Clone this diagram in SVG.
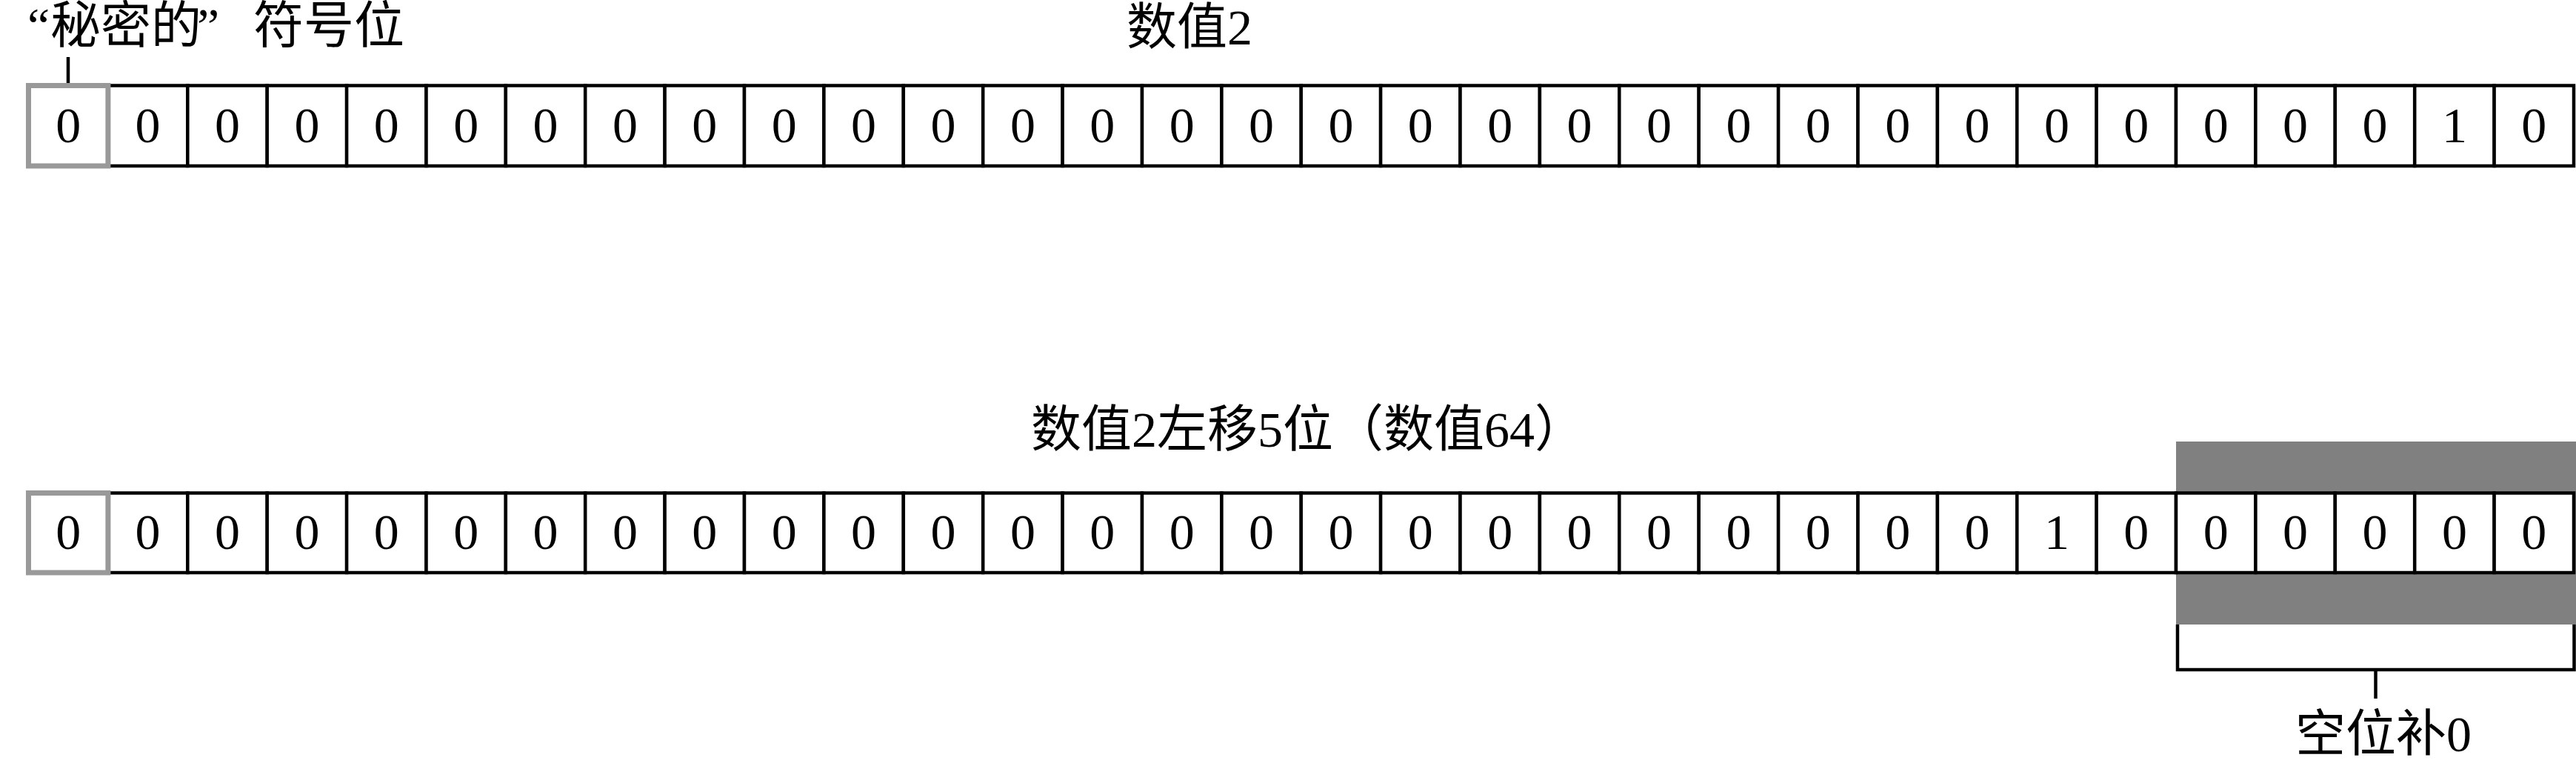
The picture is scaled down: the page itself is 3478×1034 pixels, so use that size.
<svg xmlns="http://www.w3.org/2000/svg" width="3478" height="1034" viewBox="0 0 3478 1034">
<style>
.cell{fill:#fff;stroke:#000;stroke-width:4.5}
.sign{fill:#fff;stroke:#999;stroke-width:7}
.d{font-family:"Liberation Serif",serif;font-size:68px;text-anchor:middle;fill:#000}
.lbl{font-family:"Liberation Serif","Noto Sans CJK SC",serif;font-size:68px;fill:#000}
.conn{fill:none;stroke:#000;stroke-width:4.5}
.band{fill:#808080}
</style>
<rect width="3478" height="1034" fill="#fff"/>
<g id="label-sign"><text class="lbl" y="58"><tspan x="37">“</tspan><tspan x="68">秘密的</tspan><tspan x="266">”</tspan><tspan x="342">符号位</tspan></text></g>
<g id="label-row1"><text class="lbl" x="1521" y="60">数值2</text></g>
<g id="label-row2"><text class="lbl" x="1392" y="603">数值2左移5位（数值64）</text></g>
<g id="label-fill"><text class="lbl" x="3099" y="1014">空位补0</text></g>
<g id="band"><rect class="band" x="2938" y="596" width="540" height="247"/></g>
<g id="row1">
<g id="r1c1"><rect class="cell" x="145.9" y="115.5" width="107.4" height="108.5"/><text class="d" x="199.6" y="192">0</text></g>
<g id="r1c2"><rect class="cell" x="253.3" y="115.5" width="107.4" height="108.5"/><text class="d" x="307.0" y="192">0</text></g>
<g id="r1c3"><rect class="cell" x="360.7" y="115.5" width="107.4" height="108.5"/><text class="d" x="414.4" y="192">0</text></g>
<g id="r1c4"><rect class="cell" x="468.1" y="115.5" width="107.4" height="108.5"/><text class="d" x="521.8" y="192">0</text></g>
<g id="r1c5"><rect class="cell" x="575.5" y="115.5" width="107.4" height="108.5"/><text class="d" x="629.2" y="192">0</text></g>
<g id="r1c6"><rect class="cell" x="682.8" y="115.5" width="107.4" height="108.5"/><text class="d" x="736.5" y="192">0</text></g>
<g id="r1c7"><rect class="cell" x="790.2" y="115.5" width="107.4" height="108.5"/><text class="d" x="843.9" y="192">0</text></g>
<g id="r1c8"><rect class="cell" x="897.6" y="115.5" width="107.4" height="108.5"/><text class="d" x="951.3" y="192">0</text></g>
<g id="r1c9"><rect class="cell" x="1005.0" y="115.5" width="107.4" height="108.5"/><text class="d" x="1058.7" y="192">0</text></g>
<g id="r1c10"><rect class="cell" x="1112.4" y="115.5" width="107.4" height="108.5"/><text class="d" x="1166.1" y="192">0</text></g>
<g id="r1c11"><rect class="cell" x="1219.8" y="115.5" width="107.4" height="108.5"/><text class="d" x="1273.5" y="192">0</text></g>
<g id="r1c12"><rect class="cell" x="1327.2" y="115.5" width="107.4" height="108.5"/><text class="d" x="1380.9" y="192">0</text></g>
<g id="r1c13"><rect class="cell" x="1434.6" y="115.5" width="107.4" height="108.5"/><text class="d" x="1488.3" y="192">0</text></g>
<g id="r1c14"><rect class="cell" x="1542.0" y="115.5" width="107.4" height="108.5"/><text class="d" x="1595.7" y="192">0</text></g>
<g id="r1c15"><rect class="cell" x="1649.4" y="115.5" width="107.4" height="108.5"/><text class="d" x="1703.1" y="192">0</text></g>
<g id="r1c16"><rect class="cell" x="1756.7" y="115.5" width="107.4" height="108.5"/><text class="d" x="1810.4" y="192">0</text></g>
<g id="r1c17"><rect class="cell" x="1864.1" y="115.5" width="107.4" height="108.5"/><text class="d" x="1917.8" y="192">0</text></g>
<g id="r1c18"><rect class="cell" x="1971.5" y="115.5" width="107.4" height="108.5"/><text class="d" x="2025.2" y="192">0</text></g>
<g id="r1c19"><rect class="cell" x="2078.9" y="115.5" width="107.4" height="108.5"/><text class="d" x="2132.6" y="192">0</text></g>
<g id="r1c20"><rect class="cell" x="2186.3" y="115.5" width="107.4" height="108.5"/><text class="d" x="2240.0" y="192">0</text></g>
<g id="r1c21"><rect class="cell" x="2293.7" y="115.5" width="107.4" height="108.5"/><text class="d" x="2347.4" y="192">0</text></g>
<g id="r1c22"><rect class="cell" x="2401.1" y="115.5" width="107.4" height="108.5"/><text class="d" x="2454.8" y="192">0</text></g>
<g id="r1c23"><rect class="cell" x="2508.5" y="115.5" width="107.4" height="108.5"/><text class="d" x="2562.2" y="192">0</text></g>
<g id="r1c24"><rect class="cell" x="2615.9" y="115.5" width="107.4" height="108.5"/><text class="d" x="2669.6" y="192">0</text></g>
<g id="r1c25"><rect class="cell" x="2723.3" y="115.5" width="107.4" height="108.5"/><text class="d" x="2777.0" y="192">0</text></g>
<g id="r1c26"><rect class="cell" x="2830.6" y="115.5" width="107.4" height="108.5"/><text class="d" x="2884.3" y="192">0</text></g>
<g id="r1c27"><rect class="cell" x="2938.0" y="115.5" width="107.4" height="108.5"/><text class="d" x="2991.7" y="192">0</text></g>
<g id="r1c28"><rect class="cell" x="3045.4" y="115.5" width="107.4" height="108.5"/><text class="d" x="3099.1" y="192">0</text></g>
<g id="r1c29"><rect class="cell" x="3152.8" y="115.5" width="107.4" height="108.5"/><text class="d" x="3206.5" y="192">0</text></g>
<g id="r1c30"><rect class="cell" x="3260.2" y="115.5" width="107.4" height="108.5"/><text class="d" x="3313.9" y="192">1</text></g>
<g id="r1c31"><rect class="cell" x="3367.6" y="115.5" width="107.4" height="108.5"/><text class="d" x="3421.3" y="192">0</text></g>
<g id="r1c0"><rect class="sign" x="38.5" y="115.5" width="107.4" height="108.5"/><text class="d" x="92.2" y="192">0</text></g>
</g>
<g id="row2">
<g id="r2c1"><rect class="cell" x="145.9" y="665.5" width="107.4" height="107.5"/><text class="d" x="199.6" y="741">0</text></g>
<g id="r2c2"><rect class="cell" x="253.3" y="665.5" width="107.4" height="107.5"/><text class="d" x="307.0" y="741">0</text></g>
<g id="r2c3"><rect class="cell" x="360.7" y="665.5" width="107.4" height="107.5"/><text class="d" x="414.4" y="741">0</text></g>
<g id="r2c4"><rect class="cell" x="468.1" y="665.5" width="107.4" height="107.5"/><text class="d" x="521.8" y="741">0</text></g>
<g id="r2c5"><rect class="cell" x="575.5" y="665.5" width="107.4" height="107.5"/><text class="d" x="629.2" y="741">0</text></g>
<g id="r2c6"><rect class="cell" x="682.8" y="665.5" width="107.4" height="107.5"/><text class="d" x="736.5" y="741">0</text></g>
<g id="r2c7"><rect class="cell" x="790.2" y="665.5" width="107.4" height="107.5"/><text class="d" x="843.9" y="741">0</text></g>
<g id="r2c8"><rect class="cell" x="897.6" y="665.5" width="107.4" height="107.5"/><text class="d" x="951.3" y="741">0</text></g>
<g id="r2c9"><rect class="cell" x="1005.0" y="665.5" width="107.4" height="107.5"/><text class="d" x="1058.7" y="741">0</text></g>
<g id="r2c10"><rect class="cell" x="1112.4" y="665.5" width="107.4" height="107.5"/><text class="d" x="1166.1" y="741">0</text></g>
<g id="r2c11"><rect class="cell" x="1219.8" y="665.5" width="107.4" height="107.5"/><text class="d" x="1273.5" y="741">0</text></g>
<g id="r2c12"><rect class="cell" x="1327.2" y="665.5" width="107.4" height="107.5"/><text class="d" x="1380.9" y="741">0</text></g>
<g id="r2c13"><rect class="cell" x="1434.6" y="665.5" width="107.4" height="107.5"/><text class="d" x="1488.3" y="741">0</text></g>
<g id="r2c14"><rect class="cell" x="1542.0" y="665.5" width="107.4" height="107.5"/><text class="d" x="1595.7" y="741">0</text></g>
<g id="r2c15"><rect class="cell" x="1649.4" y="665.5" width="107.4" height="107.5"/><text class="d" x="1703.1" y="741">0</text></g>
<g id="r2c16"><rect class="cell" x="1756.7" y="665.5" width="107.4" height="107.5"/><text class="d" x="1810.4" y="741">0</text></g>
<g id="r2c17"><rect class="cell" x="1864.1" y="665.5" width="107.4" height="107.5"/><text class="d" x="1917.8" y="741">0</text></g>
<g id="r2c18"><rect class="cell" x="1971.5" y="665.5" width="107.4" height="107.5"/><text class="d" x="2025.2" y="741">0</text></g>
<g id="r2c19"><rect class="cell" x="2078.9" y="665.5" width="107.4" height="107.5"/><text class="d" x="2132.6" y="741">0</text></g>
<g id="r2c20"><rect class="cell" x="2186.3" y="665.5" width="107.4" height="107.5"/><text class="d" x="2240.0" y="741">0</text></g>
<g id="r2c21"><rect class="cell" x="2293.7" y="665.5" width="107.4" height="107.5"/><text class="d" x="2347.4" y="741">0</text></g>
<g id="r2c22"><rect class="cell" x="2401.1" y="665.5" width="107.4" height="107.5"/><text class="d" x="2454.8" y="741">0</text></g>
<g id="r2c23"><rect class="cell" x="2508.5" y="665.5" width="107.4" height="107.5"/><text class="d" x="2562.2" y="741">0</text></g>
<g id="r2c24"><rect class="cell" x="2615.9" y="665.5" width="107.4" height="107.5"/><text class="d" x="2669.6" y="741">0</text></g>
<g id="r2c25"><rect class="cell" x="2723.3" y="665.5" width="107.4" height="107.5"/><text class="d" x="2777.0" y="741">1</text></g>
<g id="r2c26"><rect class="cell" x="2830.6" y="665.5" width="107.4" height="107.5"/><text class="d" x="2884.3" y="741">0</text></g>
<g id="r2c27"><rect class="cell" x="2938.0" y="665.5" width="107.4" height="107.5"/><text class="d" x="2991.7" y="741">0</text></g>
<g id="r2c28"><rect class="cell" x="3045.4" y="665.5" width="107.4" height="107.5"/><text class="d" x="3099.1" y="741">0</text></g>
<g id="r2c29"><rect class="cell" x="3152.8" y="665.5" width="107.4" height="107.5"/><text class="d" x="3206.5" y="741">0</text></g>
<g id="r2c30"><rect class="cell" x="3260.2" y="665.5" width="107.4" height="107.5"/><text class="d" x="3313.9" y="741">0</text></g>
<g id="r2c31"><rect class="cell" x="3367.6" y="665.5" width="107.4" height="107.5"/><text class="d" x="3421.3" y="741">0</text></g>
<g id="r2c0"><rect class="sign" x="38.5" y="665.5" width="107.4" height="107.5"/><text class="d" x="92.2" y="741">0</text></g>
</g>
<g id="connectors">
<path class="conn" d="M92,77 V112"/>
<path class="conn" d="M2940,843 V904 H3475.5 V843"/>
<path class="conn" d="M3207.5,904 V943"/>
</g>
</svg>
